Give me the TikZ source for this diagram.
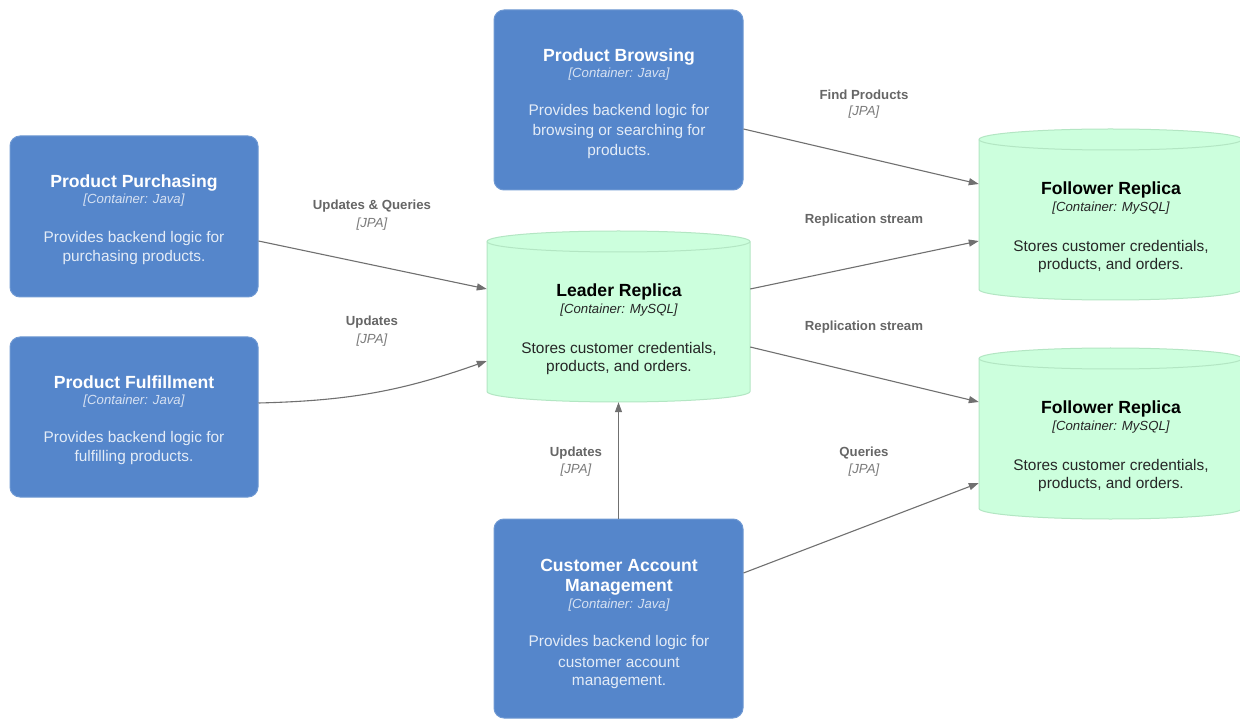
\documentclass[tikz,border=0pt]{standalone}
\usepackage{fontspec}
\setmainfont{Liberation Sans}
\usetikzlibrary{arrows.meta,calc}
\definecolor{boxblue}{HTML}{5586CB}
\definecolor{boxedge}{HTML}{6F99D3}
\definecolor{dbfill}{HTML}{CCFFDD}
\definecolor{dbedge}{HTML}{B3E6C3}
\definecolor{linkgray}{HTML}{707070}
\definecolor{labgray}{HTML}{666666}
\definecolor{jpagray}{HTML}{7A7A7A}
\definecolor{descblue}{HTML}{E4ECF7}
\definecolor{contblue}{HTML}{D6E1F2}
\tikzset{
  jbox/.style={draw=boxedge, fill=boxblue, line width=1pt, rounded corners=10pt, inner sep=0pt},
  dbanchor/.style={inner sep=0pt, minimum width=263pt, minimum height=171pt},
  dbshape/.style={draw=dbedge, fill=dbfill, line width=1pt},
  wtitle/.style={font=\bfseries\fontsize{17.6}{20}\selectfont, text=white, inner sep=0pt},
  wcont/.style={font=\itshape\fontsize{13.2}{15}\selectfont, text=contblue, inner sep=0pt},
  wdesc/.style={font=\fontsize{15.4}{18}\selectfont, text=descblue, inner sep=0pt},
  btitle/.style={font=\bfseries\fontsize{17.6}{20}\selectfont, text=black, inner sep=0pt},
  bcont/.style={font=\itshape\fontsize{13.2}{15}\selectfont, text=black!85, inner sep=0pt},
  bdesc/.style={font=\fontsize{15.4}{18}\selectfont, text=black!85, inner sep=0pt},
  lab/.style={font=\bfseries\fontsize{13.2}{15}\selectfont, text=labgray, inner sep=0pt},
  jpa/.style={font=\itshape\fontsize{13.2}{15}\selectfont, text=jpagray, inner sep=0pt},
  link/.style={draw=linkgray, line width=1.1pt, -{Triangle[length=10pt,width=7pt]}}
}
\newcommand{\cylpath}[4]{% L R T B
  \path[dbshape] (#1,-#3-10.5) -- (#1,-#4+10.5)
    arc[start angle=180, end angle=360, x radius={(#2-#1)/2}, y radius=10.5]
    -- (#2,-#3-10.5)
    arc[start angle=0, end angle=180, x radius={(#2-#1)/2}, y radius=10.5] -- cycle;
  \draw[dbedge, line width=1pt] (#1,-#3-10.5)
    arc[start angle=180, end angle=360, x radius={(#2-#1)/2}, y radius=10.5];
}
\begin{document}
\begin{tikzpicture}[x=1pt,y=1pt]
\useasboundingbox (0,0) rectangle (1240,-719);
\fill[white] (0,0) rectangle (1240,-719);

% ---------- blue containers ----------
\node[jbox, minimum width=249pt, minimum height=180pt] (pb) at (618.5,-100) {};
\node[jbox, minimum width=248pt, minimum height=161pt] (pp) at (134,-216.5) {};
\node[jbox, minimum width=248pt, minimum height=160pt] (pf) at (134,-417) {};
\node[jbox, minimum width=249pt, minimum height=199pt] (ca) at (618.5,-618.5) {};

% ---------- databases ----------
\cylpath{487}{750}{231}{402}
\node[dbanchor] (lr) at (618.5,-316.5) {};
\cylpath{979}{1242}{129}{300}
\node[dbanchor] (f1) at (1110.5,-214.5) {};
\cylpath{979}{1242}{348}{519}
\node[dbanchor] (f2) at (1110.5,-433.5) {};

\begin{scope}[yshift=-1.5pt]
% ---------- texts: Product Browsing ----------
\node[wtitle] (pbt) at (619,-55) {Product Browsing};
\node[wcont] (pbc) at (619,-73) {[Container: Java]};
\node[wdesc] (pbd1) at (619,-110) {Provides backend logic for};
\node[wdesc] (pbd2) at (619,-130) {browsing or searching for};
\node[wdesc] (pbd3) at (619,-150) {products.};

% Product Purchasing
\node[wtitle] (ppt) at (134,-181) {Product Purchasing};
\node[wcont] (ppc) at (134,-199) {[Container: Java]};
\node[wdesc] (ppd1) at (134,-237) {Provides backend logic for};
\node[wdesc] (ppd2) at (134,-256) {purchasing products.};

% Product Fulfillment
\node[wtitle] (pft) at (134,-381) {Product Fulfillment};
\node[wcont] (pfc) at (134,-400) {[Container: Java]};
\node[wdesc] (pfd1) at (134,-437) {Provides backend logic for};
\node[wdesc] (pfd2) at (134,-456) {fulfilling products.};

% Customer Account Management
\node[wtitle] (cat1) at (619,-564) {Customer Account};
\node[wtitle] (cat2) at (619,-586) {Management};
\node[wcont] (cac) at (619,-604) {[Container: Java]};
\node[wdesc] (cad1) at (619,-641) {Provides backend logic for};
\node[wdesc] (cad2) at (619,-661) {customer account};
\node[wdesc] (cad3) at (619,-681) {management.};

% Leader Replica
\node[btitle] (lrt) at (619,-290) {Leader Replica};
\node[bcont] (lrc) at (619,-309) {[Container: MySQL]};
\node[bdesc] (lrd1) at (619,-347) {Stores customer credentials,};
\node[bdesc] (lrd2) at (619,-366) {products, and orders.};

% Follower Replica 1
\node[btitle] (f1t) at (1111,-188) {Follower Replica};
\node[bcont] (f1c) at (1111,-207) {[Container: MySQL]};
\node[bdesc] (f1d1) at (1111,-245) {Stores customer credentials,};
\node[bdesc] (f1d2) at (1111,-264) {products, and orders.};

% Follower Replica 2
\node[btitle] (f2t) at (1111,-407) {Follower Replica};
\node[bcont] (f2c) at (1111,-426) {[Container: MySQL]};
\node[bdesc] (f2d1) at (1111,-464) {Stores customer credentials,};
\node[bdesc] (f2d2) at (1111,-483) {products, and orders.};

% ---------- connector labels ----------
\node[lab] (l1) at (372,-205) {Updates \& Queries};
\node[jpa] (l1j) at (372,-223) {[JPA]};
\node[lab] (l2) at (372,-321) {Updates};
\node[jpa] (l2j) at (372,-339) {[JPA]};
\node[lab] (l3) at (864,-93) {Find Products};
\node[jpa] (l3j) at (864,-111) {[JPA]};
\node[lab] (l4) at (864,-219) {Replication stream};
\node[lab] (l5) at (864,-326) {Replication stream};
\node[lab] (l6) at (864,-452) {Queries};
\node[jpa] (l6j) at (864,-469) {[JPA]};
\node[lab] (l7) at (576,-452) {Updates};
\node[jpa] (l7j) at (576,-469) {[JPA]};
\end{scope}

% ---------- connectors ----------
\draw[link] ([yshift=-24.5pt]pp.east) -- ([yshift=27.5pt]lr.west);
\draw[link] ([yshift=14pt]pf.east) to[bend right=9] ([yshift=-44.5pt]lr.west);
\draw[link] ([yshift=-29pt]pb.east) -- ([yshift=30.5pt]f1.west);
\draw[link] ([yshift=27.5pt]lr.east) -- ([yshift=-26.5pt]f1.west);
\draw[link] ([yshift=-30.5pt]lr.east) -- ([yshift=31.5pt]f2.west);
\draw[link] ([yshift=45.5pt]ca.east) -- ([yshift=-49.5pt]f2.west);
\draw[link] (ca.north) -- (lr.south);
\end{tikzpicture}
\end{document}
